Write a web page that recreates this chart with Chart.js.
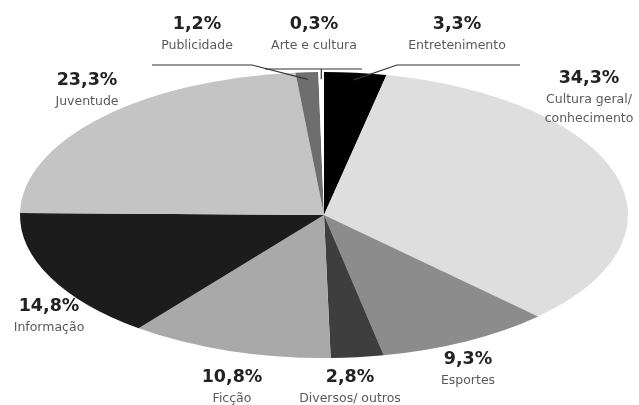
<!DOCTYPE html>
<html>
<head>
<meta charset="utf-8">
<script src="https://cdn.jsdelivr.net/npm/chart.js@4"></script>
<style>
  html, body { margin: 0; padding: 0; background: #fff; }
  #wrap { position: relative; width: 639px; height: 405px; }
</style>
</head>
<body>
<div id="wrap"><canvas id="chart" width="639" height="405"></canvas></div>
<script>
// Dados do gráfico (sentido horário, a partir do topo)
var categorias = ['Entretenimento', 'Cultura geral/\nconhecimento', 'Esportes', 'Diversos/ outros', 'Ficção', 'Informação', 'Juventude', 'Publicidade', 'Arte e cultura'];
var valores = [3.3, 34.3, 9.3, 2.8, 10.8, 14.8, 23.3, 1.2, 0.3];
var rotulosPct = ['3,3%', '34,3%', '9,3%', '2,8%', '10,8%', '14,8%', '23,3%', '1,2%', '0,3%'];

// Estilo
var cores = ['#000000', '#dedede', '#8c8c8c', '#3e3e3e', '#a9a9a9', '#1c1c1c', '#c4c4c4', '#6e6e6e', '#ffffff'];
var posRotulos = [[457, 24], [589, 78], [468, 359], [350, 377], [232, 377], [49, 306], [87, 80], [197, 24], [314, 24]];
var escalaX = 2.126;

// Linhas de chamada: índice, cotovelo, fim da linha horizontal
var chamadas = [
  { i: 7, cotovelo: [252, 65], fim: 152 },
  { i: 0, cotovelo: [397, 65], fim: 520 }
];

// Plugin que achata o círculo numa elipse
var elipse = {
  id: 'elipse',
  beforeDatasetsDraw: function(chart) {
    var arc = chart.getDatasetMeta(0).data[0];
    var ctx = chart.ctx;
    ctx.save();
    ctx.translate(arc.x, arc.y);
    ctx.scale(escalaX, 1);
    ctx.translate(-arc.x, -arc.y);
  },
  afterDatasetsDraw: function(chart) {
    chart.ctx.restore();
  }
};

// Plugin que desenha os rótulos e as linhas
var rotulos = {
  id: 'rotulos',
  afterDraw: function(chart) {
    var ctx = chart.ctx;
    var arcs = chart.getDatasetMeta(0).data;

    function pontoArco(i, f) {
      var a = arcs[i];
      var ang = (a.startAngle + a.endAngle) / 2;
      return [a.x + escalaX * a.outerRadius * f * Math.cos(ang), a.y + a.outerRadius * f * Math.sin(ang)];
    }

    ctx.save();
    ctx.strokeStyle = '#333';
    ctx.lineWidth = 1.2;
    chamadas.forEach(function(c) {
      var p = pontoArco(c.i, 0.95);
      ctx.beginPath();
      ctx.moveTo(p[0], p[1]);
      ctx.lineTo(c.cotovelo[0], c.cotovelo[1]);
      ctx.lineTo(c.fim, c.cotovelo[1]);
      ctx.stroke();
    });
    // Arte e cultura: traço vertical + barra horizontal
    var pa = pontoArco(8, 0.95);
    ctx.beginPath();
    ctx.moveTo(pa[0], pa[1]);
    ctx.lineTo(pa[0], 69);
    ctx.moveTo(265, 69);
    ctx.lineTo(362, 69);
    ctx.stroke();

    ctx.textAlign = 'center';
    ctx.textBaseline = 'middle';
    categorias.forEach(function(nome, i) {
      var p = posRotulos[i];
      ctx.fillStyle = '#222';
      ctx.font = 'bold 17.5px "DejaVu Sans", sans-serif';
      ctx.fillText(rotulosPct[i], p[0], p[1]);
      ctx.fillStyle = '#5a5a5a';
      ctx.font = '12.5px "DejaVu Sans", sans-serif';
      nome.split('\n').forEach(function(linha, k) {
        ctx.fillText(linha, p[0], p[1] + 22 + k * 19);
      });
    });
    ctx.restore();
  }
};

var ctx = document.getElementById('chart').getContext('2d');
var chart = new Chart(ctx, {
  type: 'pie',
  data: {
    labels: categorias,
    datasets: [{
      data: valores,
      backgroundColor: cores,
      borderWidth: 0
    }]
  },
  options: {
    responsive: false,
    animation: false,
    events: [],
    layout: { padding: { top: 72, bottom: 47, left: 181, right: 172 } },
    plugins: {
      legend: { display: false },
      tooltip: { enabled: false }
    }
  },
  plugins: [elipse, rotulos]
});
</script>
</body>
</html>
